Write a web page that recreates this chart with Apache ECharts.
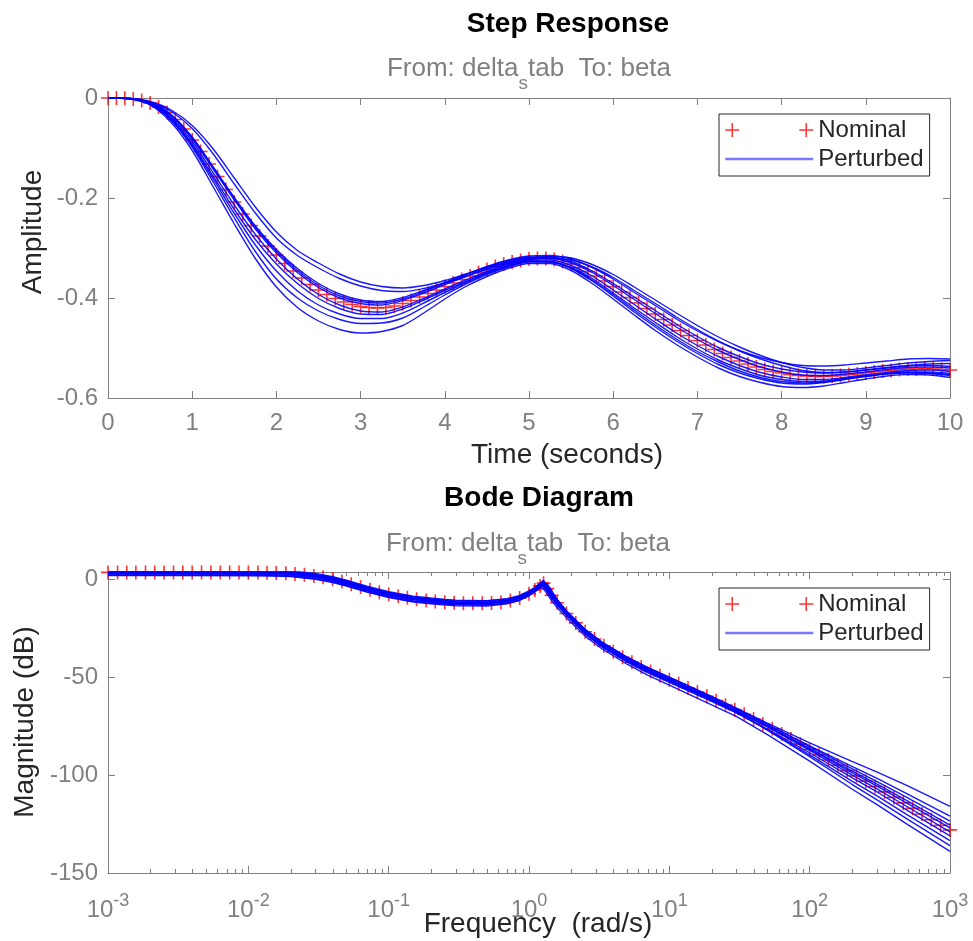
<!DOCTYPE html>
<html><head><meta charset="utf-8">
<script src="https://cdn.jsdelivr.net/npm/echarts@6/dist/echarts.min.js"></script>
<style>html,body{margin:0;padding:0;background:#fff}#c{width:973px;height:941px}</style>
</head><body><div id="c"></div>
<script>
// ---------------- Step response data ----------------
const stepTimeNominal = [0,0.1,0.2,0.3,0.4,0.5,0.6,0.7,0.8,0.9,1,1.1,1.2,1.3,1.4,1.5,1.6,1.7,1.8,1.9,2,2.1,2.2,2.3,2.4,2.5,2.6,2.7,2.8,2.9,3,3.1,3.2,3.3,3.4,3.5,3.6,3.7,3.8,3.9,4,4.1,4.2,4.3,4.4,4.5,4.6,4.7,4.8,4.9,5,5.1,5.2,5.3,5.4,5.5,5.6,5.7,5.8,5.9,6,6.1,6.2,6.3,6.4,6.5,6.6,6.7,6.8,6.9,7,7.1,7.2,7.3,7.4,7.5,7.6,7.7,7.8,7.9,8,8.1,8.2,8.3,8.4,8.5,8.6,8.7,8.8,8.9,9,9.1,9.2,9.3,9.4,9.5,9.6,9.7,9.8,9.9,10];
const stepNominal = [0,0,-0.0005,-0.002,-0.005,-0.01,-0.018,-0.029,-0.043,-0.062,-0.084,-0.107,-0.132,-0.157,-0.183,-0.208,-0.232,-0.255,-0.276,-0.296,-0.314,-0.331,-0.346,-0.36,-0.373,-0.384,-0.393,-0.401,-0.408,-0.413,-0.417,-0.419,-0.42,-0.419,-0.416,-0.411,-0.405,-0.398,-0.391,-0.384,-0.377,-0.37,-0.363,-0.356,-0.349,-0.343,-0.337,-0.332,-0.328,-0.325,-0.322,-0.321,-0.321,-0.323,-0.327,-0.332,-0.339,-0.347,-0.356,-0.366,-0.377,-0.388,-0.399,-0.41,-0.421,-0.432,-0.443,-0.454,-0.465,-0.475,-0.485,-0.494,-0.503,-0.511,-0.519,-0.526,-0.532,-0.538,-0.543,-0.547,-0.55,-0.553,-0.555,-0.556,-0.557,-0.557,-0.556,-0.555,-0.553,-0.552,-0.55,-0.548,-0.546,-0.545,-0.543,-0.542,-0.542,-0.541,-0.542,-0.543,-0.544];
const stepTimePerturbed = [0,0.25,0.5,0.75,1,1.25,1.5,1.75,2,2.25,2.5,2.75,3,3.25,3.5,3.75,4,4.25,4.5,4.75,5,5.25,5.5,5.75,6,6.25,6.5,6.75,7,7.25,7.5,7.75,8,8.25,8.5,8.75,9,9.25,9.5,9.75,10];
const stepPerturbed1  = [0,-0.0005,-0.007,-0.024,-0.055,-0.102,-0.160,-0.218,-0.268,-0.305,-0.330,-0.352,-0.368,-0.377,-0.380,-0.375,-0.365,-0.352,-0.339,-0.328,-0.320,-0.317,-0.320,-0.333,-0.353,-0.378,-0.404,-0.430,-0.455,-0.478,-0.498,-0.515,-0.529,-0.539,-0.544,-0.544,-0.540,-0.535,-0.530,-0.527,-0.525];
const stepPerturbed2  = [0,-0.0006,-0.008,-0.027,-0.061,-0.112,-0.172,-0.230,-0.280,-0.315,-0.340,-0.361,-0.376,-0.385,-0.387,-0.381,-0.370,-0.357,-0.343,-0.331,-0.323,-0.320,-0.324,-0.338,-0.359,-0.385,-0.411,-0.438,-0.463,-0.486,-0.506,-0.522,-0.535,-0.545,-0.549,-0.548,-0.544,-0.539,-0.535,-0.532,-0.531];
const stepPerturbed3  = [0,-0.001,-0.009,-0.033,-0.078,-0.138,-0.199,-0.256,-0.303,-0.341,-0.371,-0.392,-0.404,-0.407,-0.399,-0.385,-0.369,-0.353,-0.338,-0.326,-0.318,-0.318,-0.327,-0.346,-0.371,-0.398,-0.425,-0.452,-0.477,-0.499,-0.517,-0.532,-0.542,-0.548,-0.550,-0.548,-0.544,-0.540,-0.536,-0.535,-0.537];
const stepPerturbed4  = [0,-0.001,-0.010,-0.035,-0.082,-0.142,-0.204,-0.262,-0.310,-0.349,-0.379,-0.400,-0.411,-0.414,-0.405,-0.390,-0.373,-0.357,-0.341,-0.329,-0.320,-0.320,-0.330,-0.349,-0.375,-0.403,-0.431,-0.458,-0.483,-0.505,-0.523,-0.538,-0.548,-0.554,-0.555,-0.552,-0.548,-0.543,-0.539,-0.538,-0.540];
const stepPerturbed5  = [0,-0.001,-0.011,-0.038,-0.087,-0.150,-0.214,-0.273,-0.322,-0.362,-0.393,-0.414,-0.426,-0.428,-0.418,-0.401,-0.382,-0.364,-0.347,-0.333,-0.324,-0.324,-0.335,-0.356,-0.384,-0.413,-0.442,-0.470,-0.495,-0.517,-0.535,-0.549,-0.558,-0.563,-0.563,-0.559,-0.554,-0.549,-0.545,-0.544,-0.547];
const stepPerturbed6  = [0,-0.0012,-0.012,-0.041,-0.092,-0.157,-0.223,-0.283,-0.332,-0.371,-0.401,-0.421,-0.432,-0.433,-0.422,-0.404,-0.385,-0.367,-0.349,-0.335,-0.326,-0.327,-0.339,-0.361,-0.390,-0.420,-0.449,-0.477,-0.502,-0.524,-0.541,-0.555,-0.563,-0.567,-0.566,-0.561,-0.556,-0.551,-0.548,-0.548,-0.551];
const stepPerturbed7  = [0,-0.0013,-0.012,-0.043,-0.095,-0.162,-0.231,-0.294,-0.346,-0.386,-0.414,-0.432,-0.441,-0.441,-0.430,-0.410,-0.389,-0.369,-0.351,-0.337,-0.327,-0.328,-0.340,-0.364,-0.393,-0.424,-0.454,-0.482,-0.507,-0.528,-0.546,-0.559,-0.567,-0.570,-0.568,-0.562,-0.556,-0.551,-0.549,-0.550,-0.553];
const stepPerturbed8  = [0,-0.0015,-0.013,-0.045,-0.098,-0.168,-0.240,-0.307,-0.362,-0.400,-0.426,-0.443,-0.451,-0.450,-0.440,-0.418,-0.394,-0.372,-0.353,-0.338,-0.328,-0.328,-0.341,-0.366,-0.396,-0.428,-0.458,-0.486,-0.511,-0.533,-0.550,-0.562,-0.570,-0.572,-0.569,-0.563,-0.557,-0.552,-0.550,-0.551,-0.555];
const stepPerturbed9  = [0,-0.0017,-0.014,-0.049,-0.105,-0.178,-0.252,-0.321,-0.378,-0.419,-0.446,-0.463,-0.470,-0.467,-0.455,-0.430,-0.402,-0.377,-0.357,-0.341,-0.331,-0.331,-0.345,-0.371,-0.402,-0.434,-0.465,-0.493,-0.518,-0.540,-0.557,-0.569,-0.577,-0.579,-0.576,-0.569,-0.562,-0.556,-0.553,-0.554,-0.559];
const stepPerturbed10 = [0,-0.001,-0.010,-0.034,-0.080,-0.140,-0.201,-0.259,-0.306,-0.345,-0.375,-0.396,-0.407,-0.410,-0.402,-0.387,-0.370,-0.353,-0.337,-0.324,-0.316,-0.315,-0.322,-0.339,-0.362,-0.389,-0.415,-0.442,-0.466,-0.487,-0.505,-0.519,-0.529,-0.535,-0.536,-0.534,-0.530,-0.526,-0.522,-0.521,-0.522];

// ---------------- Bode magnitude data ----------------
const bodeFreqNominal = [0.001,0.00117,0.00136,0.00158,0.00185,0.00215,0.00251,0.00293,0.00341,0.00398,0.00464,0.00541,0.00631,0.00736,0.00858,
  0.01,0.0117,0.0136,0.0158,0.0185,0.0215,0.0251,0.0293,0.0341,0.0398,0.0464,0.0541,0.0631,0.0736,0.0858,
  0.1,0.117,0.136,0.158,0.185,0.215,0.251,0.293,0.341,0.398,0.464,0.541,0.631,0.736,0.858,
  1,1.1,1.2,1.27,1.35,1.45,1.585,1.848,2.154,2.512,2.929,3.415,3.981,4.642,5.412,6.31,7.356,8.577,
  10,11.66,13.59,15.85,18.48,21.54,25.12,29.29,34.15,39.81,46.42,54.12,63.1,73.56,85.77,
  100,116.6,135.9,158.5,184.8,215.4,251.2,292.9,341.5,398.1,464.2,541.2,631,735.6,857.7,1000];
const bodeMagNominal = [3.5,3.5,3.5,3.5,3.5,3.5,3.5,3.5,3.5,3.5,3.5,3.5,3.5,3.5,3.4,
  3.4,3.4,3.3,3.2,3.0,2.7,2.3,1.7,1.0,0.0,-1.2,-2.6,-4.0,-5.4,-6.6,
  -7.7,-8.7,-9.5,-10.2,-10.8,-11.3,-11.7,-12.0,-12.2,-12.3,-12.3,-12.1,-11.7,-10.9,-9.6,
  -7.4,-5.5,-3.4,-2.0,-4.8,-8.2,-12.0,-17.5,-22.3,-26.8,-30.5,-34.0,-37.0,-39.8,-42.4,-44.8,-47.1,-49.3,
  -51.3,-53.4,-55.5,-57.6,-59.8,-62.0,-64.3,-66.6,-69.0,-71.4,-73.9,-76.4,-79.0,-81.6,-84.2,
  -86.9,-89.6,-92.3,-95.0,-97.7,-100.4,-103.1,-105.8,-108.6,-111.4,-114.2,-117.0,-119.9,-122.8,-125.7,-128.0];
const bodeFreqPerturbed = [0.001,0.003,0.01,0.015,0.02,0.03,0.04,0.05,0.07,0.1,0.15,0.2,0.3,0.5,0.7,0.85,1,1.1,1.2,1.27,1.35,1.45,1.6,1.9,2.5,3.3,5,7,10,20,30,50,100,200,300,500,1000];
const bodeMagPerturbed1  = [4.5,4.5,4.4,4.25,3.95,2.6,0.95,-0.9,-4.0,-6.7,-9.0,-10.0,-10.7,-10.9,-9.9,-8.4,-6.0,-4.1,-2.0,-0.6,-3.2,-6.6,-10.8,-16.9,-25.4,-32.0,-39.7,-45.0,-50.0,-59.8,-65.8,-73.5,-83.6,-93.0,-98.4,-105.5,-116.0];
const bodeMagPerturbed2  = [4.0,4.0,3.9,3.75,3.45,2.1,0.45,-1.4,-4.5,-7.2,-9.5,-10.5,-11.5,-11.7,-10.7,-9.2,-6.9,-5.0,-2.9,-1.5,-4.3,-7.7,-11.8,-17.8,-26.2,-32.8,-40.5,-45.8,-50.8,-60.5,-66.3,-74.2,-85.1,-95.6,-101.6,-109.7,-121.0];
const bodeMagPerturbed3  = [4.9,4.9,4.8,4.65,4.35,3.0,1.35,-0.5,-3.6,-6.3,-8.6,-9.6,-10.9,-11.1,-10.1,-8.7,-6.4,-4.6,-2.5,-1.2,-3.9,-7.3,-11.4,-17.3,-25.6,-32.2,-39.9,-45.2,-50.1,-59.9,-65.9,-74.1,-85.5,-96.7,-103.2,-111.6,-123.5];
const bodeMagPerturbed4  = [3.1,3.1,3.0,2.85,2.55,1.2,-0.45,-2.3,-5.4,-8.1,-10.4,-11.4,-12.4,-12.5,-11.4,-9.7,-7.2,-5.0,-2.9,-3.6,-6.4,-9.7,-13.6,-19.3,-27.5,-34.0,-41.6,-46.9,-51.8,-61.3,-67.1,-75.0,-86.4,-97.9,-104.5,-113.3,-125.5];
const bodeMagPerturbed5  = [2.6,2.6,2.5,2.35,2.05,0.7,-0.95,-2.8,-5.9,-8.6,-10.9,-11.9,-12.9,-13.1,-12.1,-10.6,-8.3,-6.4,-4.3,-2.9,-5.7,-9.1,-13.2,-19.2,-27.6,-34.2,-41.9,-47.2,-52.1,-61.6,-67.4,-75.2,-86.8,-98.7,-105.5,-114.6,-127.0];
const bodeMagPerturbed6  = [3.7,3.7,3.6,3.45,3.15,1.8,0.15,-1.7,-4.8,-7.5,-9.8,-10.8,-11.8,-12.1,-11.2,-9.8,-7.7,-6.0,-4.2,-2.8,-2.4,-5.8,-10.6,-17.3,-26.1,-32.9,-40.7,-46.1,-51.1,-60.9,-67.1,-75.4,-87.4,-99.9,-106.9,-116.3,-129.0];
const bodeMagPerturbed7  = [2.2,2.2,2.1,1.95,1.65,0.3,-1.35,-3.2,-6.3,-9.0,-11.3,-12.3,-13.0,-13.2,-12.2,-10.7,-8.3,-6.4,-4.3,-2.9,-5.5,-8.9,-13.1,-19.2,-27.8,-34.5,-42.3,-47.7,-52.7,-62.3,-68.2,-76.5,-88.6,-101.3,-108.5,-118.1,-131.0];
const bodeMagPerturbed8  = [3.3,3.3,3.2,3.05,2.75,1.4,-0.25,-2.1,-5.2,-7.9,-10.2,-11.2,-12.2,-12.4,-11.4,-9.9,-7.6,-5.7,-3.6,-2.2,-5.0,-8.4,-12.5,-18.5,-27.0,-33.6,-41.4,-46.8,-51.9,-61.8,-68.0,-76.9,-89.7,-103.1,-110.5,-120.4,-133.5];
const bodeMagPerturbed9  = [4.3,4.3,4.2,4.05,3.75,2.4,0.75,-1.1,-4.2,-6.9,-9.2,-10.2,-11.5,-11.7,-10.7,-9.3,-7.0,-5.2,-3.1,-1.8,-4.5,-7.9,-12.0,-17.9,-26.3,-32.9,-40.7,-46.1,-51.2,-61.2,-67.5,-77.0,-90.6,-104.7,-112.5,-122.6,-136.0];
const bodeMagPerturbed10 = [1.9,1.9,1.8,1.65,1.35,0.0,-1.65,-3.5,-6.6,-9.3,-11.6,-12.6,-13.6,-13.7,-12.6,-10.9,-8.4,-6.2,-4.1,-4.8,-7.6,-10.9,-14.8,-20.5,-28.9,-35.5,-43.4,-48.9,-54.1,-64.2,-70.0,-79.3,-92.9,-107.1,-115.0,-125.3,-139.0];

const legendNames = ['Nominal', 'Perturbed'];

// ---------------- chart ----------------
const FONT = "'Liberation Sans', Arial, Helvetica, sans-serif";
const GRAY = '#808080';
const DARK = '#262626';
const PLUS = 'path://M0,7L14,7M7,0L7,14';
const LEGEND_PLUS = 'path://M0,7L14,7M7,0L7,14M74,7L88,7M81,0L81,14';
const BODE_MAX = 3.7;

function pairs(xs, ys) { return xs.map((x, i) => [x, ys[i]]); }

const stepPerturbed = [stepPerturbed1, stepPerturbed2, stepPerturbed3, stepPerturbed4, stepPerturbed5,
  stepPerturbed6, stepPerturbed7, stepPerturbed8, stepPerturbed9, stepPerturbed10];
const bodePerturbed = [bodeMagPerturbed1, bodeMagPerturbed2, bodeMagPerturbed3, bodeMagPerturbed4, bodeMagPerturbed5,
  bodeMagPerturbed6, bodeMagPerturbed7, bodeMagPerturbed8, bodeMagPerturbed9, bodeMagPerturbed10];

// minor tick positions of the log axis (2..9 x 10^k)
const minorTickFreqs = [];
for (let d = -3; d < 3; d++) for (let k = 2; k <= 9; k++) minorTickFreqs.push([k * Math.pow(10, d), -150]);

const nominalStyle = { color: '#ff0000', borderColor: '#ff0000', borderWidth: 1.6 };
const perturbedLine = { color: '#0000ff', width: 1.4, opacity: 0.9 };

const series = [];
series.push({
  type: 'scatter', name: 'Nominal', xAxisIndex: 0, yAxisIndex: 0,
  data: pairs(stepTimeNominal, stepNominal), symbol: PLUS, symbolSize: 14,
  itemStyle: nominalStyle, silent: true, z: 2
});
stepPerturbed.forEach(arr => series.push({
  type: 'line', name: 'Perturbed', xAxisIndex: 0, yAxisIndex: 0,
  data: pairs(stepTimePerturbed, arr), symbol: 'none', showSymbol: false, smooth: 0.3,
  lineStyle: perturbedLine, itemStyle: { color: '#0000ff' }, silent: true, z: 3
}));
series.push({
  type: 'scatter', name: 'Nominal', xAxisIndex: 2, yAxisIndex: 2,
  data: pairs(bodeFreqNominal, bodeMagNominal), symbol: PLUS, symbolSize: 14,
  itemStyle: nominalStyle, silent: true, z: 2
});
bodePerturbed.forEach(arr => series.push({
  type: 'line', name: 'Perturbed', xAxisIndex: 2, yAxisIndex: 2,
  data: pairs(bodeFreqPerturbed, arr), symbol: 'none', showSymbol: false,
  lineStyle: perturbedLine, itemStyle: { color: '#0000ff' }, silent: true, z: 3
}));
series.push({
  type: 'custom', xAxisIndex: 2, yAxisIndex: 2, silent: true, z: 1, clip: false,
  data: minorTickFreqs,
  renderItem: function (params, api) {
    const f = api.value(0);
    const pb = api.coord([f, -150]);
    const pt = api.coord([f, BODE_MAX]);
    const st = { stroke: GRAY, lineWidth: 1 };
    return { type: 'group', children: [
      { type: 'line', shape: { x1: Math.round(pb[0]) + 0.5, y1: pb[1], x2: Math.round(pb[0]) + 0.5, y2: pb[1] - 4 }, style: st },
      { type: 'line', shape: { x1: Math.round(pt[0]) + 0.5, y1: pt[1], x2: Math.round(pt[0]) + 0.5, y2: pt[1] + 4 }, style: st }
    ] };
  }
});

function axisLineCfg() { return { show: true, onZero: false, lineStyle: { color: GRAY, width: 1 } }; }
function tickCfg() { return { show: true, inside: true, length: 7, lineStyle: { color: GRAY, width: 1 } }; }

function logLabel(v) {
  const e = Math.round(Math.log10(v));
  return '{b|10}{s|' + e + '}';
}

const legendCommon = {
  orient: 'vertical', left: 719, itemWidth: 88, itemHeight: 14, itemGap: 5,
  padding: [4, 6, 5, 5], borderColor: DARK, borderWidth: 1, backgroundColor: '#ffffff',
  textStyle: { fontSize: 24, fontFamily: FONT, color: DARK },
  selectedMode: false,
  data: [
    { name: legendNames[0], icon: LEGEND_PLUS, itemStyle: { color: '#ff0000', borderColor: '#ff0000', borderWidth: 1.5 } },
    { name: legendNames[1], icon: 'inherit',
      itemStyle: { color: 'rgba(255,255,255,0)', borderColor: 'rgba(255,255,255,0)', borderWidth: 0 },
      lineStyle: { color: '#7878ff', width: 2.5, opacity: 1 } }
  ]
};

const subRich = {
  a: { fill: GRAY, fontSize: 26, fontFamily: FONT, lineHeight: 28, verticalAlign: 'top' },
  s: { fill: GRAY, fontSize: 19, fontFamily: FONT, lineHeight: 19, verticalAlign: 'top', padding: [18, 0, 0, 0] }
};

const option = {
  animation: false,
  backgroundColor: '#ffffff',
  grid: [
    { left: 108, top: 98, width: 842, height: 300, containLabel: false, outerBoundsMode: 'none' },
    { left: 108, top: 572, width: 842, height: 301, containLabel: false, outerBoundsMode: 'none' }
  ],
  xAxis: [
    { gridIndex: 0, type: 'value', min: 0, max: 10, interval: 1, position: 'bottom',
      axisLine: axisLineCfg(), axisTick: tickCfg(), splitLine: { show: false },
      axisLabel: { color: GRAY, fontSize: 24, fontFamily: FONT, margin: 13 } },
    { gridIndex: 0, type: 'value', min: 0, max: 10, interval: 1, position: 'top',
      axisLine: axisLineCfg(), axisTick: tickCfg(), splitLine: { show: false }, axisLabel: { show: false } },
    { gridIndex: 1, type: 'log', logBase: 10, min: 0.001, max: 1000, splitNumber: 6, position: 'bottom',
      axisLine: axisLineCfg(), axisTick: tickCfg(), splitLine: { show: false },
      axisLabel: { color: GRAY, fontFamily: FONT, margin: 19, formatter: logLabel,
        rich: {
          b: { fontSize: 24, fontFamily: FONT, color: GRAY, lineHeight: 36, verticalAlign: 'middle' },
          s: { fontSize: 18, fontFamily: FONT, color: GRAY, lineHeight: 18, verticalAlign: 'top' }
        } } },
    { gridIndex: 1, type: 'log', logBase: 10, min: 0.001, max: 1000, splitNumber: 6, position: 'top',
      axisLine: axisLineCfg(), axisTick: tickCfg(), splitLine: { show: false }, axisLabel: { show: false } }
  ],
  yAxis: [
    { gridIndex: 0, type: 'value', min: -0.6, max: 0, interval: 0.2, position: 'left',
      axisLine: axisLineCfg(), axisTick: tickCfg(), splitLine: { show: false },
      axisLabel: { color: GRAY, fontSize: 24, fontFamily: FONT, margin: 10 } },
    { gridIndex: 0, type: 'value', min: -0.6, max: 0, interval: 0.2, position: 'right',
      axisLine: axisLineCfg(), axisTick: tickCfg(), splitLine: { show: false }, axisLabel: { show: false } },
    { gridIndex: 1, type: 'value', min: -150, max: BODE_MAX, interval: 50, position: 'left',
      axisLine: axisLineCfg(), axisTick: tickCfg(), splitLine: { show: false },
      axisLabel: { color: GRAY, fontSize: 24, fontFamily: FONT, margin: 10, showMaxLabel: false } },
    { gridIndex: 1, type: 'value', min: -150, max: BODE_MAX, interval: 50, position: 'right',
      axisLine: axisLineCfg(), axisTick: tickCfg(), splitLine: { show: false }, axisLabel: { show: false } }
  ],
  legend: [
    Object.assign({}, legendCommon, { top: 114 }),
    Object.assign({}, legendCommon, { top: 588 })
  ],
  graphic: [
    { type: 'text', x: 568, y: 24, style: { text: 'Step Response', fill: '#000000', font: 'bold 28px ' + FONT, align: 'center', verticalAlign: 'middle', textAlign: 'center', textVerticalAlign: 'middle' } },
    { type: 'text', x: 529, y: 56, style: { text: '{a|From: delta}{s|s}{a|tab  To: beta}', align: 'center', verticalAlign: 'top', textAlign: 'center', textVerticalAlign: 'top', rich: subRich } },
    { type: 'text', x: 567, y: 455, style: { text: 'Time (seconds)', fill: DARK, font: '28px ' + FONT, align: 'center', verticalAlign: 'middle', textAlign: 'center', textVerticalAlign: 'middle' } },
    { type: 'text', x: 33, y: 232, rotation: Math.PI / 2, style: { text: 'Amplitude', fill: DARK, font: '28px ' + FONT, align: 'center', verticalAlign: 'middle', textAlign: 'center', textVerticalAlign: 'middle' } },
    { type: 'text', x: 539, y: 498, style: { text: 'Bode Diagram', fill: '#000000', font: 'bold 28px ' + FONT, align: 'center', verticalAlign: 'middle', textAlign: 'center', textVerticalAlign: 'middle' } },
    { type: 'text', x: 528, y: 531, style: { text: '{a|From: delta}{s|s}{a|tab  To: beta}', align: 'center', verticalAlign: 'top', textAlign: 'center', textVerticalAlign: 'top', rich: subRich } },
    { type: 'text', x: 538, y: 924, style: { text: 'Frequency  (rad/s)', fill: DARK, font: '28px ' + FONT, align: 'center', verticalAlign: 'middle', textAlign: 'center', textVerticalAlign: 'middle' } },
    { type: 'text', x: 25, y: 722, rotation: Math.PI / 2, style: { text: 'Magnitude (dB)', fill: DARK, font: '28px ' + FONT, align: 'center', verticalAlign: 'middle', textAlign: 'center', textVerticalAlign: 'middle' } }
  ],
  series: series
};

const chart = echarts.init(document.getElementById('c'), null, { renderer: 'canvas', width: 973, height: 941 });
chart.setOption(option);
</script>
</body></html>
